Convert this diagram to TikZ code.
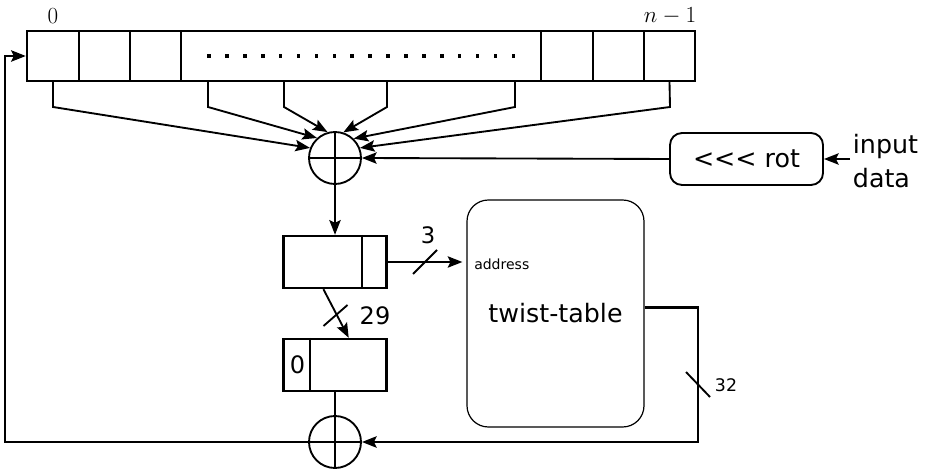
\documentclass[tikz,border=0pt]{standalone}
\usepackage{fontspec}
\newfontfamily\dv{DejaVu Sans}
\usetikzlibrary{arrows.meta,calc}
\tikzset{
  regline/.style={line width=1.8pt},
  cellbox/.style={draw, line width=1.8pt, inner sep=0pt, minimum height=37.5pt, minimum width=#1*0.75pt},
  conn/.style={line width=1.4pt},
  arr/.style={conn, -{Stealth[length=11pt,width=8.5pt,inset=2pt]}},
  xorc/.style={draw, circle, line width=1.4pt, minimum size=39pt, inner sep=0pt},
  slash/.style={line width=1.4pt},
  lbl/.style={inner sep=0pt, font=\dv\fontsize{18}{21}\selectfont},
}
\begin{document}
\begin{tikzpicture}[x=0.75pt,y=-0.75pt]
\useasboundingbox (0,0) rectangle (930,473);
% register
\node[cellbox=52] (c1) at (53,56) {};
\node[cellbox=51] (c2) at (104.5,56) {};
\node[cellbox=51] (c3) at (155.5,56) {};
\node[cellbox=360] (cm) at (361,56) {};
\node[cellbox=52] (c4) at (567,56) {};
\node[cellbox=51] (c5) at (618.5,56) {};
\node[cellbox=51] (c6) at (669.5,56) {};
\foreach \i in {0,...,17} \fill ({209+\i*17.9-1.8},54.2) rectangle ++(3.6,3.6);
\node[inner sep=0pt, font=\fontsize{17}{20}\selectfont] (l0) at (53,16) {$0$};
\node[inner sep=0pt, font=\fontsize{17}{20}\selectfont] (ln) at (670,16) {$n-1$};
% xor 1
\node[xorc] (x1) at (335,158) {};
\draw[conn] (x1.north) -- (x1.south) (x1.west) -- (x1.east);
% taps
\coordinate (t1) at (53,107);
\coordinate (t2) at (208,107);
\coordinate (t3) at (284,107);
\coordinate (t4) at (387,107);
\coordinate (t5) at (515,107);
\coordinate (t6) at (670,107);
\draw[arr] (c1.south) -- (t1) -- (x1.158);
\draw[arr] (t2 |- cm.south) -- (t2) -- (x1.132);
\draw[arr] (t3 |- cm.south) -- (t3) -- (x1.106);
\draw[arr] (t4 |- cm.south) -- (t4) -- (x1.72);
\draw[arr] (t5 |- cm.south) -- (t5) -- (x1.46);
\draw[arr] (c6.south) -- (t6) -- (x1.22);
% rot
\node[draw, line width=1.4pt, rounded corners=9pt, minimum width=114.75pt, minimum height=39pt, inner sep=0pt, font=\dv\fontsize{19}{22}\selectfont] (rot) at (746.5,159) {<<< rot};
\node[anchor=west, align=left, inner sep=2pt, font=\dv\fontsize{19}{25}\selectfont] (inp) at (850,161) {input\\data};
\draw[arr] (inp.west |- rot.east) -- (rot.east);
\draw[arr] (rot.west) -- (x1.east);
% register 1
\node[draw, line width=1.8pt, inner sep=0pt, minimum width=77.25pt, minimum height=39pt] (r1) at (335,262) {};
\draw[regline] ($(r1.north west)!0.757!(r1.north east)$) -- ($(r1.south west)!0.757!(r1.south east)$);
\draw[arr] (x1.south) -- (r1.north);
% twist table
\node[draw, line width=0.9pt, rounded corners=16pt, minimum width=132.75pt, minimum height=170.25pt, inner sep=0pt, font=\dv\fontsize{19}{22}\selectfont] (tt) at (555.5,313.5) {twist-table};
\node[anchor=west, inner sep=0pt, font=\dv\fontsize{10.5}{12}\selectfont] (addr) at (474,264) {address};
\draw[arr, shorten >=3pt] (r1.east) -- (r1.east -| tt.west);
\coordinate (s3) at (425,262);
\draw[slash] ($(s3)+(-12,12)$) -- ($(s3)+(12,-12)$);
\node[lbl, font=\dv\fontsize{17}{20}\selectfont] (n3) at (428,235) {3};
% register 2
\node[draw, line width=1.8pt, inner sep=0pt, minimum width=77.25pt, minimum height=39pt] (r2) at (335,365) {};
\draw[regline] ($(r2.north west)!0.262!(r2.north east)$) -- ($(r2.south west)!0.262!(r2.south east)$);
\node[lbl] (n0) at (297.5,365) {0};
\draw[arr] ($(r1.south west)!0.39!(r1.south east)$) -- ($(r2.north west)!0.63!(r2.north east)$);
\coordinate (s29) at (335.5,315);
\draw[slash] ($(s29)+(-12,11)$) -- ($(s29)+(12,-10)$);
\node[lbl] (n29) at (375,316) {29};
% xor 2
\node[xorc] (x2) at (335,442) {};
\draw[conn] (x2.north) -- (x2.south) (x2.west) -- (x2.east);
\draw[conn] (r2.south) -- (x2.north);
% twist table output
\coordinate (tout) at ($(tt.east)+(0,-6)$);
\coordinate (cr) at (698,442);
\draw[arr, line width=1.8pt] (tout) -| (cr) -- (x2.east);
\coordinate (s32) at (698,385);
\draw[slash] ($(s32)+(-12,-13)$) -- ($(s32)+(12,12)$);
\node[lbl, font=\dv\fontsize{13}{15}\selectfont] (n32) at (726,385) {32};
% feedback
\coordinate (fb) at (5,442);
\draw[arr, line width=1.8pt] (x2.west) -- (fb) |- (c1.west);
\end{tikzpicture}
\end{document}
